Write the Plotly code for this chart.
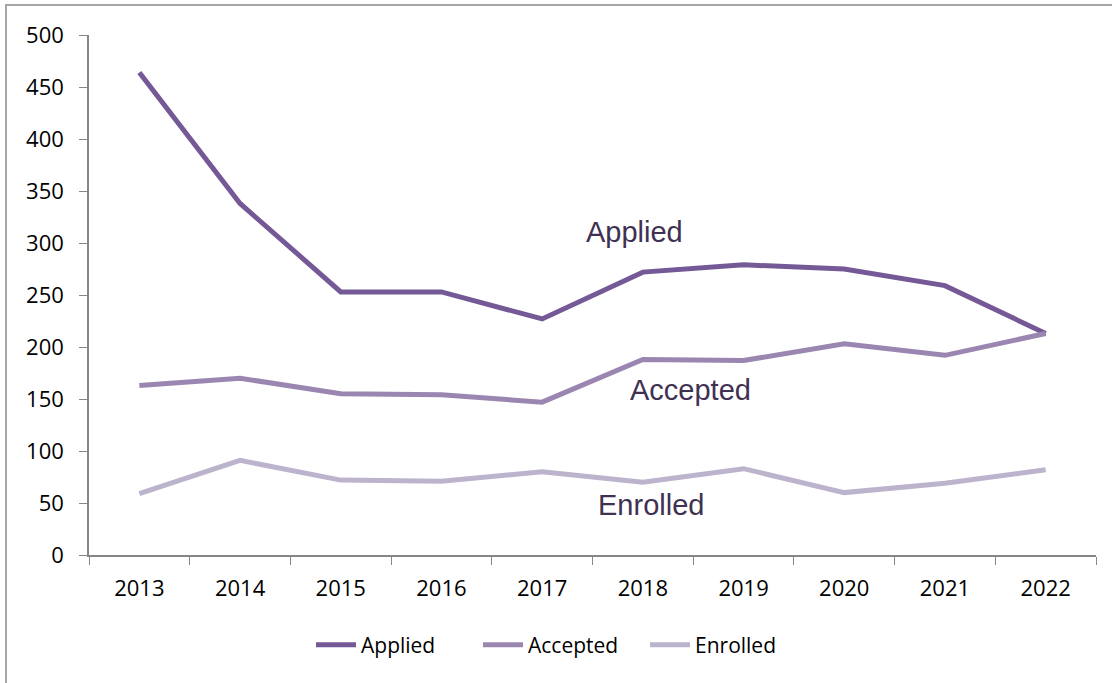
import plotly.graph_objects as go

years = ["2013", "2014", "2015", "2016", "2017", "2018", "2019", "2020", "2021", "2022"]
applied = [464, 338, 253, 253, 227, 272, 279, 275, 259, 213]
accepted = [163, 170, 155, 154, 147, 188, 187, 203, 192, 213]
enrolled = [59, 91, 72, 71, 80, 70, 83, 60, 69, 82]
y_ticks = [0, 50, 100, 150, 200, 250, 300, 350, 400, 450, 500]

colors = {"Applied": "#745996", "Accepted": "#9a86b0", "Enrolled": "#bcb3cd"}
series = [("Applied", applied), ("Accepted", accepted), ("Enrolled", enrolled)]

fig = go.Figure()
for name, vals in series:
    fig.add_trace(go.Scatter(
        x=years, y=vals, name=name, mode="lines",
        line=dict(color=colors[name], width=5),
    ))

tick_font = dict(family="Open Sans, Noto Sans, sans-serif", size=22, color="#000000")
legend_font = dict(family="Open Sans, Noto Sans, sans-serif", size=21, color="#000000")

W, H = 1112, 683
L, R, T, B = 89, 16, 35, 128
PW, PH = W - L - R, H - T - B

fig.update_layout(
    width=W, height=H,
    margin=dict(l=L, r=R, t=T, b=B),
    paper_bgcolor="white", plot_bgcolor="white",
    showlegend=True,
    legend=dict(orientation="h", x=(311 - L) / PW, xanchor="left", y=(H - B - 645) / PH,
                yanchor="middle", font=legend_font, itemwidth=40, traceorder="normal",
                entrywidth=112, entrywidthmode="pixels"),
    xaxis=dict(type="category", range=[-0.5, 9.5], showgrid=False,
               showline=True, linecolor="#868686", linewidth=1.5,
               ticks="outside", tickson="boundaries", ticklen=8, tickcolor="#868686",
               ticklabelstandoff=13, tickfont=tick_font),
    yaxis=dict(range=[0, 500], tickvals=y_ticks, showgrid=False, zeroline=False,
               showline=True, linecolor="#868686", linewidth=1.5,
               ticks="outside", ticklen=8, tickcolor="#868686",
               ticklabelstandoff=11, tickfont=tick_font),
    shapes=[dict(type="rect", xref="paper", yref="paper",
                 x0=(6 - L) / PW, x1=1.2, y0=-0.6, y1=(H - B - 5) / PH,
                 line=dict(color="#a6a6a6", width=2), fillcolor="rgba(0,0,0,0)", layer="below")],
)

ann_font = dict(family="Liberation Sans, Arial, sans-serif", size=29, color="#403152")
labels = [("Applied", 4.92, 311), ("Accepted", 5.47, 159), ("Enrolled", 5.08, 48)]
for text, xi, yv in labels:
    fig.add_annotation(x=xi, y=yv, xref="x", yref="y", text=text, showarrow=False, font=ann_font)

fig.write_html("out.html", config={"displayModeBar": False},
               post_script="document.body.style.margin='0';document.body.style.overflow='hidden';")
